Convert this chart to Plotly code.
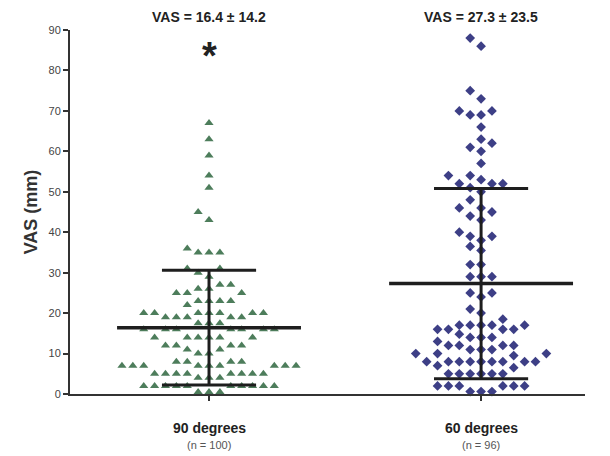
import plotly.graph_objects as go

# ---------------- data ----------------
categories = ["90 degrees", "60 degrees"]
n_labels = ["(n = 100)", "(n = 96)"]
means = [16.4, 27.3]
sds = [14.2, 23.5]

vas_90 = [67, 63, 59, 54, 51, 45, 43,
          36, 35, 35, 35,
          31, 31, 30, 29,
          27, 27, 26, 26, 25, 25, 25,
          23, 23, 23, 23, 22,
          20, 20, 20, 20, 20, 20, 20,
          19, 19, 19, 19, 19,
          17.5, 17.5, 17.5,
          16, 16, 16, 16, 16, 16, 16,
          14, 14, 14, 14, 14, 14,
          12, 12, 12, 12,
          11, 11, 10, 10,
          8, 8, 8, 8,
          7, 7, 7, 7, 7, 7, 7, 7, 7,
          5, 5, 5, 5, 5, 5, 5, 5,
          4, 4, 4,
          2, 2, 2, 2, 2, 2, 2, 2, 2, 2,
          0.5, 0.5, 0.5]

vas_60 = [88, 86, 75, 73, 70, 70, 69, 69, 66, 63, 62, 61, 60, 57,
          54, 54, 53, 52, 52, 52, 51, 50, 48, 46, 46, 45, 44, 43, 40,
          39, 39, 38, 36.5, 35.5, 32, 32, 29, 29, 29, 25, 25, 24, 21, 20, 18.5,
          17, 17, 17, 17, 17,
          16, 16, 16, 16,
          14.8, 14, 14, 14,
          13, 12, 12, 12, 12, 11, 11, 11,
          10, 10, 10, 9.5,
          8, 8, 8, 8, 8, 8, 8, 8, 8,
          7, 6.5,
          5, 5, 5, 5, 5, 5,
          2, 2, 2, 2, 2, 2,
          0.6, 0.6, 0.6]

groups = [vas_90, vas_60]
colors = ["#4d7d5b", "#3d3f86"]
symbols = ["triangle-up", "diamond"]
sizes = [8, 7.5]

# ---------------- beeswarm offsets (computed) ----------------
COL_STEP = 0.040      # horizontal spacing of columns (x units)
MIN_GAP = 2.1         # vertical distance (y units) under which points collide


def swarm(values):
    order = sorted(range(len(values)), key=lambda i: values[i])
    placed = {}
    offs = [0] * len(values)
    for i in order:
        v = values[i]
        k = 0
        cand = [0]
        for j in range(1, 20):
            cand += [-j, j]
        for c in cand:
            if all(abs(v - w) >= MIN_GAP for w in placed.get(c, [])):
                k = c
                break
        placed.setdefault(k, []).append(v)
        offs[i] = k * COL_STEP
    return offs


fig = go.Figure()

for gi, vals in enumerate(groups):
    offs = swarm(vals)
    fig.add_trace(go.Scatter(
        x=[gi + o for o in offs], y=vals, mode="markers",
        marker=dict(symbol=symbols[gi], size=sizes[gi], color=colors[gi],
                    line=dict(width=0)),
        cliponaxis=False, showlegend=False, hoverinfo="y"))

MEAN_HALF = 0.338
CAP_HALF = 0.173
line_col = "#1e1e1e"
for gi in range(2):
    m, s = means[gi], sds[gi]
    fig.add_trace(go.Scatter(x=[gi, gi], y=[m - s, m + s], mode="lines",
                             line=dict(color=line_col, width=3),
                             showlegend=False, hoverinfo="skip", cliponaxis=False))
    fig.add_trace(go.Scatter(x=[gi - MEAN_HALF, gi + MEAN_HALF], y=[m, m], mode="lines",
                             line=dict(color=line_col, width=3.5),
                             showlegend=False, hoverinfo="skip", cliponaxis=False))
    for yv in (m - s, m + s):
        fig.add_trace(go.Scatter(x=[gi - CAP_HALF, gi + CAP_HALF], y=[yv, yv], mode="lines",
                                 line=dict(color=line_col, width=3),
                                 showlegend=False, hoverinfo="skip", cliponaxis=False))

annotations = []
for gi in range(2):
    annotations.append(dict(
        x=gi, y=1, xref="x", yref="paper", yanchor="middle", yshift=13, showarrow=False,
        text=f"<b>VAS = {means[gi]} ± {sds[gi]}</b>",
        font=dict(family="Liberation Sans Narrow, Liberation Sans, Arial", size=14, color="#222")))
    annotations.append(dict(
        x=gi, y=0, xref="x", yref="paper", yanchor="middle", yshift=-34, showarrow=False,
        text=f"<b>{categories[gi]}</b>",
        font=dict(family="Liberation Sans, Arial", size=14, color="#222")))
    annotations.append(dict(
        x=gi, y=0, xref="x", yref="paper", yanchor="middle", yshift=-51, showarrow=False,
        text=n_labels[gi],
        font=dict(family="Liberation Sans, Arial", size=11, color="#555")))

annotations.append(dict(x=0, y=83.5, xref="x", yref="y", yanchor="middle", showarrow=False,
                        text="<b>*</b>",
                        font=dict(family="Liberation Sans, Arial", size=38, color="#222")))

fig.update_layout(
    width=602, height=448,
    margin=dict(l=62, r=25, t=22, b=62),
    paper_bgcolor="white", plot_bgcolor="white",
    annotations=annotations,
    xaxis=dict(range=[-0.511, 1.382], tickvals=[0, 1], ticktext=["", ""],
               ticks="outside", ticklen=5, tickwidth=2, tickcolor="#333",
               showline=True, linecolor="#333", linewidth=2,
               showgrid=False, zeroline=False, fixedrange=True),
    yaxis=dict(range=[0, 90], tickvals=list(range(0, 91, 10)),
               ticks="outside", ticklen=5, tickwidth=2, tickcolor="#333",
               showline=True, linecolor="#333", linewidth=2,
               showgrid=False, zeroline=False,
               tickfont=dict(family="Liberation Sans, Arial", size=11, color="#444"),
               title=dict(text="<b>VAS (mm)</b>", standoff=6,
                          font=dict(family="Liberation Sans, Arial", size=18, color="#333"))),
)

fig.write_html("out.html")
